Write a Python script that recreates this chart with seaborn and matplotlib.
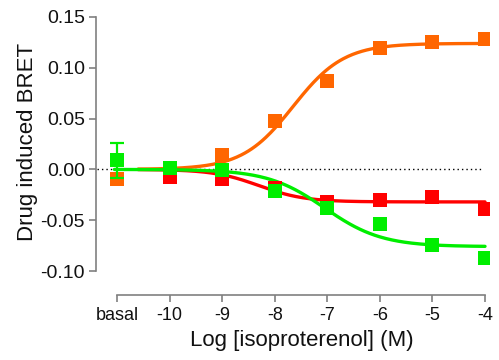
import numpy as np
import pandas as pd
import matplotlib
matplotlib.use("Agg")
import matplotlib.pyplot as plt
import seaborn as sns

# ---- data ----
x_pos = [-11, -10, -9, -8, -7, -6, -5, -4]          # basal plotted at -11
tick_labels = ["basal", "-10", "-9", "-8", "-7", "-6", "-5", "-4"]

orange_y = [-0.009, np.nan, 0.014, 0.048, 0.087, 0.119, 0.125, 0.128]
red_y    = [np.nan, -0.007, -0.009, -0.018, -0.032, -0.030, -0.027, -0.039]
green_y  = [0.009, 0.001, -0.001, -0.021, -0.038, -0.054, -0.074, -0.087]
green_basal_err = 0.017

# fitted sigmoid parameters: (start, plateau, logEC50, hill, x_from)
orange_fit = (0.0, 0.124, -7.65, 0.9, -10.6)
red_fit    = (0.0, -0.032, -8.3, 1.0, -10.6)
green_fit  = (0.0, -0.076, -7.05, 0.8, -11.05)

colors = {"orange": "#FF6600", "red": "#FF0000", "green": "#00EE00"}

sns.set_style("white")
plt.rcParams["font.family"] = ["Liberation Sans", "DejaVu Sans"]

fig = plt.figure(figsize=(4.99, 3.6), dpi=100)
ax = fig.add_axes([0.1924, 0.1806, 0.9804 - 0.1924, 0.9528 - 0.1806])

# zero dotted line
ax.plot([-11.38, -4.08], [0, 0], color="black", lw=1.0, ls=(0, (1, 2.2)), zorder=1)

def curve(params):
    a, d, e, h, x0 = params
    xs = np.linspace(x0, -4, 300)
    ys = a + (d - a) / (1 + 10 ** ((e - xs) * h))
    return xs, ys

for name, fit, vals in [("orange", orange_fit, orange_y),
                        ("red", red_fit, red_y),
                        ("green", green_fit, green_y)]:
    xs, ys = curve(fit)
    sns.lineplot(x=xs, y=ys, color=colors[name], lw=2.4, ax=ax, zorder=3)
    df = pd.DataFrame({"x": x_pos, "y": vals}).dropna()
    sns.scatterplot(data=df, x="x", y="y", marker="s", s=115, color=colors[name],
                    linewidth=0, ax=ax, zorder=4)

ax.errorbar([-11], [green_y[0]], yerr=[green_basal_err], fmt="none",
            ecolor=colors["green"], elinewidth=1.6, capsize=5, capthick=1.6, zorder=4)

ax.set_xlim(-11.4, -3.92)
ax.set_ylim(-0.1236, 0.15)
ax.set_xticks(x_pos)
ax.set_xticklabels(tick_labels)
ax.set_yticks([-0.10, -0.05, 0.0, 0.05, 0.10, 0.15])
ax.set_yticklabels(["-0.10", "-0.05", "0.00", "0.05", "0.10", "0.15"])

for s in ["top", "right"]:
    ax.spines[s].set_visible(False)
for s in ["left", "bottom"]:
    ax.spines[s].set_color("#808080")
    ax.spines[s].set_linewidth(1.2)
ax.spines["left"].set_bounds(-0.10, 0.15)
ax.spines["bottom"].set_bounds(-11, -4)

ax.tick_params(axis="both", direction="out", length=5, width=1.2, color="#808080",
               labelcolor="#111111")
ax.tick_params(axis="x", bottom=True, pad=4, labelsize=13)
ax.tick_params(axis="y", left=True, pad=3, labelsize=14)

ax.set_xlabel("Log [isoproterenol] (M)", fontsize=16, color="#111111", va="top")
ax.set_ylabel("Drug induced BRET", fontsize=16, color="#111111")
ax.xaxis.set_label_coords(0.5225, -0.127)
ax.yaxis.set_label_coords(-0.148, 0.552)

fig.savefig("out.png", dpi=100)
